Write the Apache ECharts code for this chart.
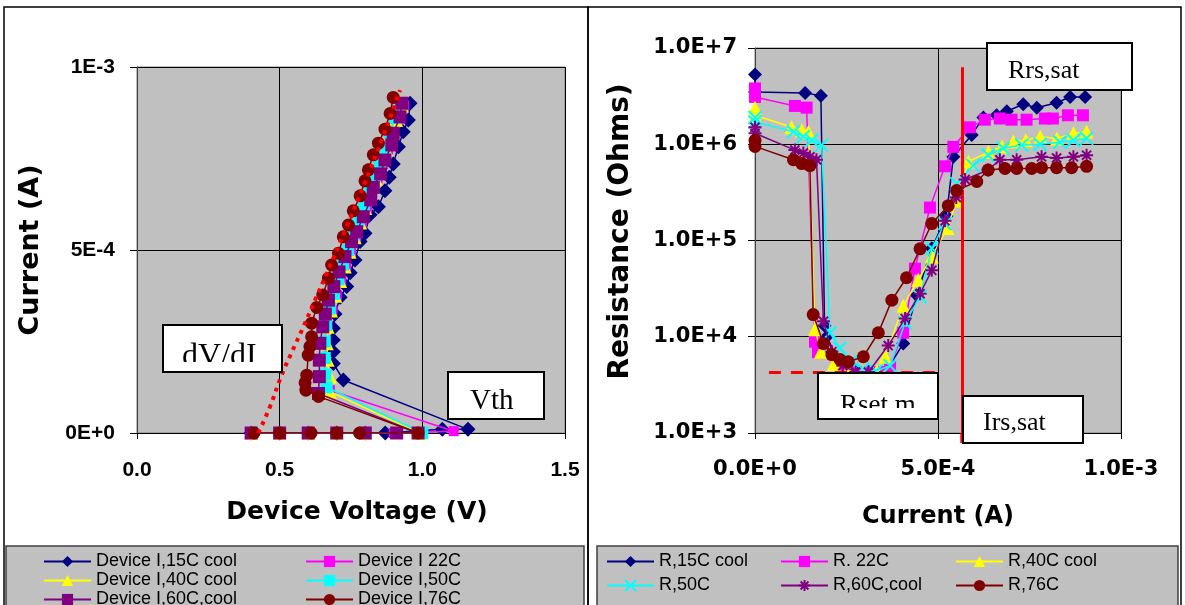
<!DOCTYPE html>
<html>
<head>
<meta charset="utf-8">
<script src="https://cdn.jsdelivr.net/npm/echarts@6/dist/echarts.min.js"></script>
<style>
html, body { margin: 0; padding: 0; background: #fff; }
#main { width: 1185px; height: 605px; }
</style>
</head>
<body>
<div id="main"></div>
<script>
// series names
var ivNames = ['Device I,15C cool', 'Device I 22C', 'Device I,40C cool', 'Device I,50C', 'Device I,60C,cool', 'Device I,76C'];
var rNames = ['R,15C cool', 'R. 22C', 'R,40C cool', 'R,50C', 'R,60C,cool', 'R,76C'];

// left panel: [device voltage (V), current (A)]
var iv15 = [[0.40,0],[0.50,0],[0.60,0],[0.70,0],[0.80,0],[0.87,0],[1.07,1.0e-5],[1.16,1.0e-5],[0.723,1.45e-4],[0.688,1.90e-4],[0.688,2.22e-4],[0.688,2.54e-4],[0.688,2.86e-4],[0.694,3.25e-4],[0.712,3.71e-4],[0.735,4.00e-4],[0.747,4.38e-4],[0.764,4.73e-4],[0.782,5.23e-4],[0.799,5.46e-4],[0.817,5.96e-4],[0.846,6.18e-4],[0.869,6.62e-4],[0.884,6.99e-4],[0.898,7.35e-4],[0.916,7.82e-4],[0.933,8.23e-4],[0.951,8.55e-4],[0.957,9.01e-4]];
var iv22 = [[0.40,0],[0.50,0],[0.60,0],[0.70,0],[0.80,0],[0.90,0],[1.11,0.5e-5],[0.676,1.17e-4],[0.660,1.55e-4],[0.655,2.00e-4],[0.660,2.45e-4],[0.668,2.90e-4],[0.685,3.35e-4],[0.700,3.75e-4],[0.716,4.15e-4],[0.733,4.55e-4],[0.750,4.95e-4],[0.768,5.35e-4],[0.788,5.75e-4],[0.806,6.15e-4],[0.824,6.55e-4],[0.843,6.95e-4],[0.862,7.35e-4],[0.880,7.75e-4],[0.898,8.15e-4],[0.916,8.55e-4],[0.936,8.95e-4]];
var iv40 = [[0.40,0],[0.50,0],[0.60,0],[0.70,0],[0.80,0],[0.99,0],[0.676,1.13e-4],[0.676,1.54e-4],[0.668,2.00e-4],[0.665,2.45e-4],[0.668,2.90e-4],[0.680,3.35e-4],[0.695,3.75e-4],[0.712,4.15e-4],[0.728,4.55e-4],[0.745,4.95e-4],[0.763,5.35e-4],[0.782,5.75e-4],[0.800,6.15e-4],[0.818,6.55e-4],[0.837,6.95e-4],[0.855,7.35e-4],[0.873,7.75e-4],[0.891,8.15e-4],[0.908,8.55e-4],[0.928,8.95e-4]];
var iv50 = [[0.40,0],[0.50,0],[0.60,0],[0.70,0],[0.80,0],[1.00,0],[0.665,1.25e-4],[0.660,1.60e-4],[0.658,2.05e-4],[0.658,2.50e-4],[0.662,2.95e-4],[0.676,3.40e-4],[0.690,3.80e-4],[0.706,4.20e-4],[0.722,4.60e-4],[0.740,5.00e-4],[0.758,5.40e-4],[0.776,5.80e-4],[0.795,6.20e-4],[0.813,6.60e-4],[0.832,7.00e-4],[0.850,7.40e-4],[0.868,7.80e-4],[0.886,8.20e-4],[0.904,8.60e-4],[0.922,9.00e-4]];
var iv60 = [[0.40,0],[0.50,0],[0.60,0],[0.70,0],[0.80,0],[0.91,0],[0.985,0],[0.636,1.08e-4],[0.639,1.54e-4],[0.639,1.99e-4],[0.641,2.45e-4],[0.651,2.90e-4],[0.660,3.25e-4],[0.671,3.63e-4],[0.690,4.00e-4],[0.708,4.40e-4],[0.729,4.82e-4],[0.752,5.23e-4],[0.770,5.50e-4],[0.793,5.91e-4],[0.819,6.37e-4],[0.828,6.71e-4],[0.854,7.08e-4],[0.869,7.46e-4],[0.893,7.87e-4],[0.898,8.19e-4],[0.922,8.64e-4],[0.928,9.01e-4]];
var iv76 = [[0.41,0],[0.50,0],[0.61,0],[0.70,0],[0.78,0],[0.985,0],[0.636,1.00e-4],[0.592,1.17e-4],[0.589,1.37e-4],[0.595,1.58e-4],[0.600,2.13e-4],[0.606,2.36e-4],[0.612,2.63e-4],[0.612,3.00e-4],[0.630,3.43e-4],[0.651,3.77e-4],[0.671,4.23e-4],[0.682,4.59e-4],[0.706,4.91e-4],[0.723,5.36e-4],[0.741,5.68e-4],[0.758,6.07e-4],[0.782,6.48e-4],[0.799,6.89e-4],[0.811,7.19e-4],[0.828,7.60e-4],[0.846,7.92e-4],[0.869,8.30e-4],[0.887,8.73e-4],[0.898,9.17e-4]];
// dV/dI fit line (dotted red)
var dvdiFit = [[0.425,0],[0.466,0.72e-4],[0.507,1.58e-4],[0.545,2.25e-4],[0.583,2.90e-4],[0.625,3.65e-4],[0.665,4.36e-4],[0.730,5.55e-4],[0.793,6.73e-4],[0.860,8.05e-4],[0.922,9.37e-4]];

// right panel: [current (A), resistance (Ohms)]
var r15 = [[0,5.3e6],[0,3.5e6],[1.37e-4,3.4e6],[1.80e-4,3.2e6],[1.90e-4,1.3e4],[1.96e-4,1.0e4],[2.30e-4,5.5e3],[2.70e-4,4.6e3],[3.10e-4,4.4e3],[3.60e-4,4.5e3],[4.05e-4,8.5e3],[4.42e-4,2.7e4],[4.83e-4,8.3e4],[5.23e-4,1.8e5],[5.42e-4,7.4e5],[5.92e-4,1.25e6],[6.24e-4,1.9e6],[6.60e-4,2.0e6],[6.88e-4,2.2e6],[7.33e-4,2.6e6],[7.70e-4,2.4e6],[8.24e-4,2.7e6],[8.61e-4,3.1e6],[9.02e-4,3.1e6]];
var r22 = [[0,3.8e6],[0,3.1e6],[1.09e-4,2.5e6],[1.41e-4,2.4e6],[1.64e-4,8.9e3],[1.72e-4,6.9e3],[2.23e-4,5.1e3],[2.60e-4,4.5e3],[3.00e-4,4.3e3],[3.40e-4,4.3e3],[3.69e-4,5.0e3],[4.05e-4,1.1e4],[4.37e-4,5.1e4],[4.78e-4,2.2e5],[5.19e-4,5.9e5],[5.42e-4,9.4e5],[5.87e-4,1.5e6],[6.28e-4,1.8e6],[6.69e-4,1.85e6],[7.01e-4,1.8e6],[7.42e-4,1.8e6],[7.92e-4,1.85e6],[8.14e-4,1.85e6],[8.55e-4,2.0e6],[8.96e-4,2.0e6]];
var r40 = [[0,2.4e6],[0,2.0e6],[1.00e-4,1.5e6],[1.28e-4,1.4e6],[1.46e-4,1.35e6],[1.64e-4,1.2e4],[1.80e-4,7.0e3],[2.15e-4,5.2e3],[2.55e-4,4.5e3],[2.95e-4,4.3e3],[3.33e-4,4.4e3],[3.56e-4,6.2e3],[4.05e-4,2.1e4],[4.46e-4,3.9e4],[4.83e-4,6.8e4],[5.26e-4,1.35e5],[5.51e-4,2.6e5],[5.83e-4,6.6e5],[6.38e-4,8.3e5],[6.75e-4,9.5e5],[7.06e-4,1.07e6],[7.40e-4,1.1e6],[7.79e-4,1.2e6],[8.25e-4,1.15e6],[8.70e-4,1.3e6],[9.06e-4,1.35e6]];
var r50 = [[0,1.9e6],[0,1.7e6],[1.05e-4,1.35e6],[1.32e-4,1.2e6],[1.55e-4,1.1e6],[1.82e-4,9.8e5],[2.05e-4,1.1e4],[2.32e-4,7.6e3],[2.60e-4,5.5e3],[2.95e-4,4.6e3],[3.30e-4,4.4e3],[3.69e-4,5.0e3],[4.10e-4,1.4e4],[4.51e-4,2.6e4],[4.83e-4,8.3e4],[5.19e-4,1.5e5],[5.51e-4,3.9e5],[5.96e-4,6.0e5],[6.37e-4,7.7e5],[6.78e-4,9.1e5],[7.29e-4,9.8e5],[7.79e-4,1.0e6],[8.33e-4,1.05e6],[8.70e-4,1.1e6],[9.06e-4,1.15e6]];
var r60 = [[0,1.5e6],[0,1.3e6],[1.09e-4,8.7e5],[1.32e-4,8.1e5],[1.50e-4,7.4e5],[1.68e-4,6.9e5],[1.87e-4,1.45e4],[2.10e-4,7.0e3],[2.40e-4,5.0e3],[2.75e-4,4.3e3],[3.10e-4,4.3e3],[3.64e-4,8.1e3],[4.10e-4,1.55e4],[4.51e-4,2.8e4],[4.83e-4,4.9e4],[5.19e-4,1.6e5],[5.50e-4,2.8e5],[5.74e-4,4.3e5],[6.37e-4,5.4e5],[6.69e-4,6.9e5],[7.15e-4,6.9e5],[7.83e-4,7.4e5],[8.24e-4,7.2e5],[8.70e-4,7.4e5],[9.06e-4,7.7e5]];
var r76 = [[0,1.1e6],[0,9.5e5],[1.05e-4,6.9e5],[1.28e-4,6.3e5],[1.50e-4,6.0e5],[1.59e-4,1.7e4],[1.87e-4,8.5e3],[2.10e-4,6.5e3],[2.32e-4,5.8e3],[2.55e-4,5.5e3],[2.96e-4,6.2e3],[3.37e-4,1.1e4],[3.74e-4,2.4e4],[4.14e-4,4.1e4],[4.51e-4,8.2e4],[4.83e-4,1.5e5],[5.28e-4,2.3e5],[5.51e-4,3.3e5],[6.06e-4,4.1e5],[6.37e-4,5.4e5],[6.83e-4,5.6e5],[7.15e-4,5.6e5],[7.56e-4,5.6e5],[7.83e-4,5.7e5],[8.24e-4,5.7e5],[8.65e-4,5.7e5],[9.06e-4,5.9e5]];

// annotation values
var irsSat = 5.65e-4;        // vertical red line (A)
var irsTop = 6.3e6;
var rsetMin = 4.3e3;         // dashed red line (Ohms)
var rsetSpan = [0.38e-4, 5.0e-4];

var colors = ['#000080', '#ff00ff', '#ffff00', '#00ffff', '#800080', '#800000'];
var font = 'Liberation Sans, Arial, sans-serif';
var wide = 'DejaVu Sans, Verdana, sans-serif';
var serif = 'Liberation Serif, Times New Roman, serif';
var crossPath = 'path://M0,0L10,10M10,0L0,10';
var starPath = 'path://M5,0L5,10M0,5L10,5M1.5,1.5L8.5,8.5M8.5,1.5L1.5,8.5';
var ivSymbols = ['diamond', 'rect', 'triangle', 'rect', 'rect', 'circle'];
var ivSizes = [15, 10, 14, 12, 13, 13];
var rSymbols = ['diamond', 'rect', 'triangle', crossPath, starPath, 'circle'];
var rSizes = [14, 12, 14, 13, 13, 13];

var chart = echarts.init(document.getElementById('main'));

var series = [];
[iv15, iv22, iv40, iv50, iv60, iv76].forEach(function (d, i) {
    series.push({
        name: ivNames[i], type: 'line', xAxisIndex: 0, yAxisIndex: 0, data: d,
        symbol: ivSymbols[i], symbolSize: ivSizes[i], z: 2 + i,
        lineStyle: { color: colors[i], width: 1.5 },
        itemStyle: { color: colors[i] }
    });
});
series.push({
    name: 'fit', type: 'line', xAxisIndex: 0, yAxisIndex: 0, data: dvdiFit,
    smooth: true, showSymbol: false, z: 10,
    lineStyle: { color: '#ff0000', width: 4, type: [4, 5], cap: 'butt' }
});
[r15, r22, r40, r50, r60, r76].forEach(function (d, i) {
    var stroked = i === 3 || i === 4;
    series.push({
        name: rNames[i], type: 'line', xAxisIndex: 1, yAxisIndex: 1, data: d,
        symbol: rSymbols[i], symbolSize: rSizes[i], z: 2 + i,
        lineStyle: { color: colors[i], width: 1.5 },
        itemStyle: stroked ? { color: colors[i], borderColor: colors[i], borderWidth: 2 } : { color: colors[i] }
    });
});
// red guide lines in the resistance panel
series.push({
    name: 'guides', type: 'line', xAxisIndex: 1, yAxisIndex: 1, data: [], z: 9,
    markLine: {
        silent: true, symbol: 'none', label: { show: false }, animation: false,
        data: [
            [{ coord: [irsSat, irsTop], lineStyle: { color: '#ff0000', width: 3, type: 'solid' } }, { coord: [irsSat, 1000] }],
            [{ coord: [rsetSpan[0], rsetMin], lineStyle: { color: '#ff0000', width: 3, type: [12, 10] } }, { coord: [rsetSpan[1], rsetMin] }]
        ]
    }
});

function expLabel(digits) {
    return function (v) { return Number(v).toExponential(digits).toUpperCase(); };
}
function boldText(family, size, pad) {
    var s = { fontFamily: family, fontWeight: 'bold', fontSize: size, color: '#000' };
    if (pad) { s.padding = pad; }
    return s;
}

function legendCol(names, left, top, rowGap) {
    return {
        data: names, left: left, top: top, height: 90, orient: 'vertical', padding: 0,
        itemWidth: 47, itemHeight: 14, itemGap: rowGap, selectedMode: false,
        textStyle: { fontFamily: font, fontSize: 18, color: '#000', lineHeight: 19 }
    };
}

function noteBox(x, y, w, h) {
    return { type: 'rect', z: 50, silent: true, shape: { x: x, y: y, width: w, height: h },
        style: { fill: '#fff', stroke: '#000', lineWidth: 2 } };
}
function noteText(txt, x, y, size) {
    return { type: 'text', z: 51, silent: true, x: x, y: y,
        style: { text: txt, font: size + 'px ' + serif, fill: '#000', align: 'left', verticalAlign: 'bottom' } };
}
function cover(x, y, w, h) {
    return { type: 'rect', z: 52, silent: true, shape: { x: x, y: y, width: w, height: h }, style: { fill: '#fff' } };
}

chart.setOption({
    animation: false,
    backgroundColor: '#fff',
    grid: [
        { left: 137, top: 67, width: 428, height: 366, show: true, backgroundColor: '#c0c0c0', borderColor: '#808080', borderWidth: 1 },
        { left: 755, top: 48, width: 366, height: 385, show: true, backgroundColor: '#c0c0c0', borderColor: '#808080', borderWidth: 1 }
    ],
    xAxis: [
        { gridIndex: 0, type: 'value', min: 0, max: 1.5, interval: 0.5,
          axisLine: { onZero: false, lineStyle: { color: '#000' } },
          axisTick: { length: 6, lineStyle: { color: '#000' } },
          axisLabel: Object.assign({ margin: 27, formatter: function (v) { return v.toFixed(1); } }, boldText(font, 21)),
          splitLine: { lineStyle: { color: '#000', width: 1 } },
          name: 'Device Voltage (V)', nameLocation: 'middle', nameGap: 67, nameTextStyle: boldText(wide, 25, [0, 0, 0, 12]) },
        { gridIndex: 1, type: 'value', min: 0, max: 1e-3, interval: 5e-4,
          axisLine: { onZero: false, lineStyle: { color: '#000' } },
          axisTick: { length: 6, lineStyle: { color: '#000' } },
          axisLabel: Object.assign({ margin: 26, formatter: expLabel(1) }, boldText(wide, 21)),
          splitLine: { lineStyle: { color: '#000', width: 1 } },
          name: 'Current (A)', nameLocation: 'middle', nameGap: 72, nameTextStyle: boldText(wide, 24) }
    ],
    yAxis: [
        { gridIndex: 0, type: 'value', min: 0, max: 1e-3, interval: 5e-4,
          axisLine: { show: true, onZero: false, lineStyle: { color: '#404040' } },
          axisTick: { show: true, length: 7, lineStyle: { color: '#000' } },
          axisLabel: Object.assign({ margin: 22, formatter: expLabel(0) }, boldText(font, 21)),
          splitLine: { lineStyle: { color: '#000', width: 1 } },
          name: 'Current (A)', nameLocation: 'middle', nameGap: 93, nameTextStyle: boldText(wide, 27) },
        { gridIndex: 1, type: 'log', logBase: 10, min: 1e3, max: 1e7,
          axisLine: { show: true, onZero: false, lineStyle: { color: '#404040' } },
          axisTick: { show: true, length: 7, lineStyle: { color: '#000' } },
          axisLabel: Object.assign({ margin: 18, formatter: expLabel(1) }, boldText(wide, 21)),
          splitLine: { lineStyle: { color: '#000', width: 1 } },
          minorTick: { show: false },
          name: 'Resistance (Ohms)', nameLocation: 'middle', nameGap: 120, nameTextStyle: boldText(wide, 28, [0, 0, 0, 18]) }
    ],
    legend: [
        legendCol([ivNames[0], ivNames[2], ivNames[4]], 43, 552, 0),
        legendCol([ivNames[1], ivNames[3], ivNames[5]], 305, 552, 0),
        legendCol([rNames[0], rNames[3]], 606, 552, 5),
        legendCol([rNames[1], rNames[4]], 780, 552, 5),
        legendCol([rNames[2], rNames[5]], 955, 552, 5)
    ],
    graphic: [
        { type: 'rect', z: -10, silent: true, shape: { x: 4, y: 7, width: 584, height: 610 }, style: { fill: 'transparent', stroke: '#000', lineWidth: 1.5 } },
        { type: 'rect', z: -10, silent: true, shape: { x: 588, y: 7, width: 593, height: 610 }, style: { fill: 'transparent', stroke: '#000', lineWidth: 1.5 } },
        { type: 'rect', z: -5, silent: true, shape: { x: 6, y: 546, width: 578, height: 70 }, style: { fill: '#c0c0c0', stroke: '#404040', lineWidth: 1.5 } },
        { type: 'rect', z: -5, silent: true, shape: { x: 597, y: 546, width: 581, height: 70 }, style: { fill: '#c0c0c0', stroke: '#404040', lineWidth: 1.5 } },
        noteBox(163, 325, 119, 47), noteText('dV/dI', 182, 373, 32), cover(165, 362, 115, 8),
        noteBox(448, 372, 96, 47), noteText('Vth', 470, 416, 29),
        noteBox(987, 43, 145, 47), noteText('Rrs,sat', 1008, 84, 26),
        noteBox(818, 373, 120, 46), noteText('Rset m', 840, 419, 27), cover(820, 408, 116, 9),
        noteBox(963, 396, 120, 47), noteText('Irs,sat', 983, 436, 26)
    ],
    series: series
});

// the Irs,sat line runs a little past the bottom of the plot area
var irsFoot = chart.convertToPixel({ xAxisIndex: 1, yAxisIndex: 1 }, [irsSat, 1000]);
chart.setOption({
    graphic: [{ id: 'irsFoot', type: 'line', z: 49, silent: true,
        shape: { x1: irsFoot[0], y1: irsFoot[1], x2: irsFoot[0], y2: irsFoot[1] + 10 },
        style: { stroke: '#ff0000', lineWidth: 3 } }]
});
</script>
</body>
</html>
